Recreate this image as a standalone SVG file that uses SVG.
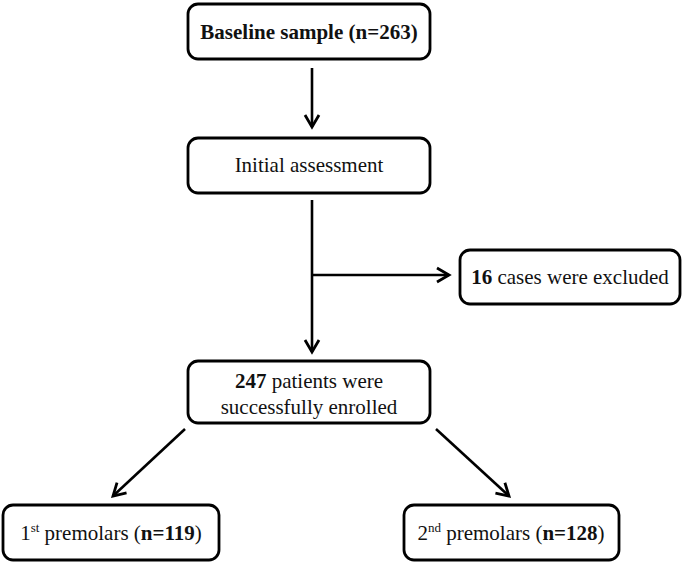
<svg xmlns="http://www.w3.org/2000/svg" width="685" height="564" viewBox="0 0 685 564">
<style>
.box{fill:#fff;stroke:#000;stroke-width:2.8}
.t{font-family:'Liberation Serif',serif;font-size:21px;fill:#111;text-anchor:middle}
.b{font-weight:bold}
.c{stroke:#000;stroke-width:2.6;fill:none}
</style>
<defs>
<marker id="ah" markerUnits="userSpaceOnUse" markerWidth="20" markerHeight="20" viewBox="0 0 20 20" refX="16" refY="10" orient="auto">
<path d="M4,3 L16,10 L4,17" fill="none" stroke="#000" stroke-width="2.8"/>
</marker>
</defs>
<rect width="685" height="564" fill="#fff"/>
<g id="connectors">
<line class="c" x1="312" y1="68" x2="312" y2="127" marker-end="url(#ah)"/>
<line class="c" x1="312" y1="200" x2="312" y2="352" marker-end="url(#ah)"/>
<line class="c" x1="312" y1="275" x2="449" y2="275" marker-end="url(#ah)"/>
<line class="c" x1="185" y1="429" x2="113" y2="496" marker-end="url(#ah)"/>
<line class="c" x1="436" y1="429" x2="509" y2="496" marker-end="url(#ah)"/>
</g>
<g id="baseline">
<rect class="box" x="188" y="4" width="242" height="55" rx="10"/>
<text class="t b" font-family="Liberation Serif" x="309" y="39">Baseline sample (n=263)</text>
</g>
<g id="initial">
<rect class="box" x="188" y="138" width="242" height="55" rx="10"/>
<text class="t" font-family="Liberation Serif" x="309" y="172">Initial assessment</text>
</g>
<g id="excluded">
<rect class="box" x="460" y="250" width="220" height="54" rx="10"/>
<text class="t" font-family="Liberation Serif" x="570" y="284"><tspan class="b">16</tspan> cases were excluded</text>
</g>
<g id="enrolled">
<rect class="box" x="188" y="361" width="242" height="62" rx="10"/>
<text class="t" font-family="Liberation Serif" x="309" y="388"><tspan class="b">247</tspan> patients were</text>
<text class="t" font-family="Liberation Serif" x="309" y="414">successfully enrolled</text>
</g>
<g id="first">
<rect class="box" x="3" y="505" width="216" height="55" rx="10"/>
<text class="t" font-family="Liberation Serif" x="111" y="540">1<tspan font-size="13" dy="-8">st</tspan><tspan dy="8"> premolars (</tspan><tspan class="b">n=119</tspan>)</text>
</g>
<g id="second">
<rect class="box" x="404" y="505" width="215" height="55" rx="10"/>
<text class="t" font-family="Liberation Serif" x="511" y="540">2<tspan font-size="13" dy="-8">nd</tspan><tspan dy="8"> premolars (</tspan><tspan class="b">n=128</tspan>)</text>
</g>
</svg>
